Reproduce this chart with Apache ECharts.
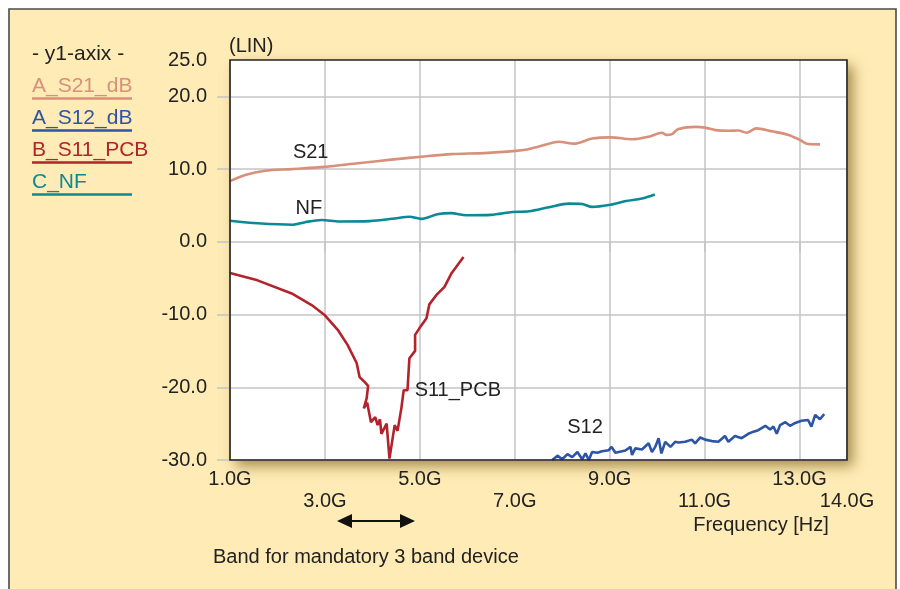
<!DOCTYPE html>
<html>
<head>
<meta charset="utf-8">
<script src="https://cdn.jsdelivr.net/npm/echarts@6/dist/echarts.min.js"></script>
<style>html,body{margin:0;padding:0;background:#fff}#c{width:900px;height:589px}</style>
</head>
<body>
<div id="c"></div>
<script>
// ---- data (frequency in GHz, value) ----
const s21Freq = [1.0,1.32,1.74,2.3,3.0,3.69,4.4,5.03,5.66,6.36,7.02,7.26,7.51,7.93,8.25,8.63,9.02,9.47,9.82,10.1,10.2,10.31,10.45,10.81,11.01,11.23,11.5,11.71,11.88,12.09,12.41,12.77,13.01,13.18,13.43];
const s21Val  = [8.35,9.2,9.77,10.0,10.3,10.8,11.3,11.7,12.06,12.2,12.5,12.7,13.1,13.75,13.5,14.2,14.36,14.1,14.45,15.0,14.7,14.8,15.5,15.8,15.7,15.36,15.27,15.3,15.0,15.6,15.2,14.7,14.0,13.44,13.4];

const nfFreq = [1.0,1.59,2.32,2.58,2.93,3.31,3.94,4.47,4.78,5.03,5.37,5.66,5.98,6.5,6.95,7.3,7.72,8.14,8.42,8.63,8.98,9.34,9.68,9.95];
const nfVal  = [2.9,2.55,2.35,2.7,3.0,2.8,2.85,3.2,3.44,3.15,3.8,3.95,3.65,3.7,4.1,4.2,4.75,5.25,5.2,4.8,5.05,5.6,5.95,6.5];

const s11Freq = [1.0,1.58,2.3,2.72,3.0,3.27,3.48,3.67,3.73,3.84,3.91,3.88,3.82,3.89,3.97,4.06,4.11,4.16,4.19,4.30,4.36,4.47,4.53,4.61,4.66,4.74,4.78,4.90,4.90,4.99,5.14,5.2,5.35,5.52,5.66,5.92];
const s11Val  = [-4.3,-5.3,-7.1,-8.7,-10.1,-12.1,-14.2,-16.7,-18.6,-19.3,-19.8,-21.5,-22.9,-22.1,-24.8,-24.1,-25.2,-24.4,-26.4,-25.0,-29.8,-25.2,-26.0,-22.9,-20.4,-20.4,-16.0,-15.0,-12.8,-11.9,-10.5,-8.6,-7.3,-6.2,-4.4,-2.1];

const s12Freq = [7.79,7.90,8.00,8.11,8.21,8.32,8.42,8.49,8.56,8.63,8.74,8.84,8.98,9.04,9.12,9.33,9.44,9.47,9.54,9.68,9.82,9.89,9.96,10.03,10.09,10.17,10.28,10.38,10.45,10.59,10.73,10.80,10.91,11.01,11.15,11.29,11.43,11.50,11.64,11.78,11.92,12.03,12.13,12.28,12.38,12.45,12.52,12.59,12.70,12.80,12.91,13.04,13.18,13.25,13.33,13.43,13.52];
const s12Val  = [-30.0,-29.4,-29.9,-29.2,-29.6,-28.9,-29.9,-29.1,-30.0,-28.9,-29.0,-28.8,-28.65,-28.2,-29.0,-28.7,-28.2,-29.3,-28.4,-28.55,-27.7,-28.9,-28.2,-27.0,-29.1,-27.5,-28.2,-27.5,-27.6,-27.5,-27.2,-27.7,-26.9,-27.2,-27.4,-27.5,-26.7,-27.5,-26.7,-27.0,-26.4,-26.1,-25.9,-25.3,-25.8,-25.4,-26.4,-25.2,-24.8,-25.3,-24.9,-24.6,-24.5,-25.4,-23.8,-24.4,-23.7];

const xTickLabels = ['1.0G','3.0G','5.0G','7.0G','9.0G','11.0G','13.0G','14.0G'];
const yTickValues = [-30,-20,-10,0,10,20];
const yTickLabels = ['-30.0','-20.0','-10.0','0.0','10.0','20.0','25.0'];

const legendNames = ['A_S21_dB','A_S12_dB','B_S11_PCB','C_NF'];
const curveLabels = ['S21','S12','S11_PCB','NF'];
const labelPos = [[2.70,12.33],[8.48,-25.5],[5.80,-20.4],[2.66,4.63]];

const colors = ['#D8907B','#2E55A4','#B3232B','#0B8996'];
const FONT = 'Liberation Sans, Arial, Helvetica, sans-serif';
const TXT = '#222';

function zip(a,b){return a.map((v,i)=>[v,b[i]]);}
const seriesData = [zip(s21Freq,s21Val), zip(s12Freq,s12Val), zip(s11Freq,s11Val), zip(nfFreq,nfVal)];
const smoothness = [0.3, false, false, 0.3];

const series = seriesData.map((d,i)=>({
  name: legendNames[i],
  type: 'line',
  xAxisIndex: 0,
  data: d,
  showSymbol: false,
  symbol: 'none',
  smooth: smoothness[i],
  lineStyle: {color: colors[i], width: 2.6},
  itemStyle: {color: colors[i]},
  z: 5,
  markPoint: {
    symbol: 'circle', symbolSize: 1,
    itemStyle: {color: 'rgba(0,0,0,0)'},
    label: {show: true, position: 'inside', formatter: curveLabels[i], color: TXT, fontSize: 20, fontFamily: FONT},
    data: [{coord: labelPos[i]}]
  }
}));

const legendGraphics = [];
legendGraphics.push({type:'text', x: 32, y: 54, style:{text:'- y1-axix -', fill: TXT, font: '21px ' + FONT, textVerticalAlign:'middle'}});
const legY = [86, 118, 150, 182];
legendNames.forEach((n,i)=>{
  legendGraphics.push({type:'text', x: 32, y: legY[i], style:{text:n, fill: colors[i], font: '21px ' + FONT, textVerticalAlign:'middle'}});
  legendGraphics.push({type:'line', shape:{x1:32, y1:legY[i]+12.5, x2:132, y2:legY[i]+12.5}, style:{stroke: colors[i], lineWidth: 2.6}});
});

const GL = 230, GT = 60, GR = 53, GB = 129;
const GW = 900 - GL - GR, GH = 589 - GT - GB;
const gridColor = '#c4c4c8';
const xBase = {type: 'value', min: 1, max: 14, interval: 2, axisLine: {show: false}};
const chart = echarts.init(document.getElementById('c'), null, {renderer:'canvas'});
chart.setOption({
  backgroundColor: '#ffffff',
  animation: false,
  textStyle: {fontFamily: FONT},
  grid: {left: GL, top: GT, right: GR, bottom: GB, show: false},
  xAxis: [
    Object.assign({}, xBase, {
      axisTick: {show: true, length: 10, lineStyle: {color: gridColor, width: 1.5}},
      splitLine: {show: true, lineStyle: {color: gridColor, width: 1.5}},
      axisLabel: {
        margin: 9, color: TXT, fontSize: 20, fontFamily: FONT,
        showMaxLabel: true, showMinLabel: true, hideOverlap: false,
        formatter: (v, idx) => (idx % 2 ? '' : xTickLabels[idx])
      }
    }),
    Object.assign({}, xBase, {
      position: 'bottom',
      axisTick: {show: false},
      splitLine: {show: false},
      axisLabel: {
        margin: 31, color: TXT, fontSize: 20, fontFamily: FONT,
        showMaxLabel: true, showMinLabel: true, hideOverlap: false,
        formatter: (v, idx) => (idx % 2 ? xTickLabels[idx] : '')
      }
    })
  ],
  yAxis: {
    type: 'value', min: -30, max: 25, interval: 10,
    axisLine: {show: false},
    axisTick: {show: true, length: 13, customValues: yTickValues, lineStyle: {color: gridColor, width: 1.5}},
    splitLine: {show: true, lineStyle: {color: gridColor, width: 1.5}},
    axisLabel: {
      margin: 23, color: TXT, fontSize: 20, fontFamily: FONT,
      showMaxLabel: true, showMinLabel: true,
      formatter: (v, idx) => yTickLabels[idx]
    }
  },
  graphic: [
    {type:'rect', z: -100, silent: true, shape:{x: 9, y: 9, width: 887, height: 620}, style:{fill:'#FEEBB5', stroke:'#4a4a4a', lineWidth: 1.6}},
    {type:'rect', z: -90, silent: true, shape:{x: GL, y: GT, width: GW, height: GH},
      style:{fill:'#ffffff', shadowColor:'rgba(120,90,20,0.65)', shadowBlur: 12, shadowOffsetX: 6, shadowOffsetY: 6}},
    {type:'rect', z: 100, silent: true, shape:{x: GL, y: GT, width: GW, height: GH},
      style:{fill: null, stroke:'#222', lineWidth: 1.6}},
    {type:'text', x: 229, y: 46, style:{text:'(LIN)', fill: TXT, font:'20px ' + FONT, textVerticalAlign:'middle'}},
    {type:'text', x: 761, y: 525, style:{text:'Frequency [Hz]', fill: TXT, font:'20px ' + FONT, textAlign:'center', textVerticalAlign:'middle'}},
    {type:'line', shape:{x1: 348, y1: 521, x2: 405, y2: 521}, style:{stroke:'#111', lineWidth: 2}},
    {type:'polygon', shape:{points:[[337,521],[352,514],[352,528]]}, style:{fill:'#111'}},
    {type:'polygon', shape:{points:[[415,521],[400,514],[400,528]]}, style:{fill:'#111'}},
    {type:'text', x: 213, y: 557, style:{text:'Band for mandatory 3 band device', fill: TXT, font:'20px ' + FONT, textVerticalAlign:'middle'}},
    ...legendGraphics
  ],
  series: series
});
</script>
</body>
</html>
